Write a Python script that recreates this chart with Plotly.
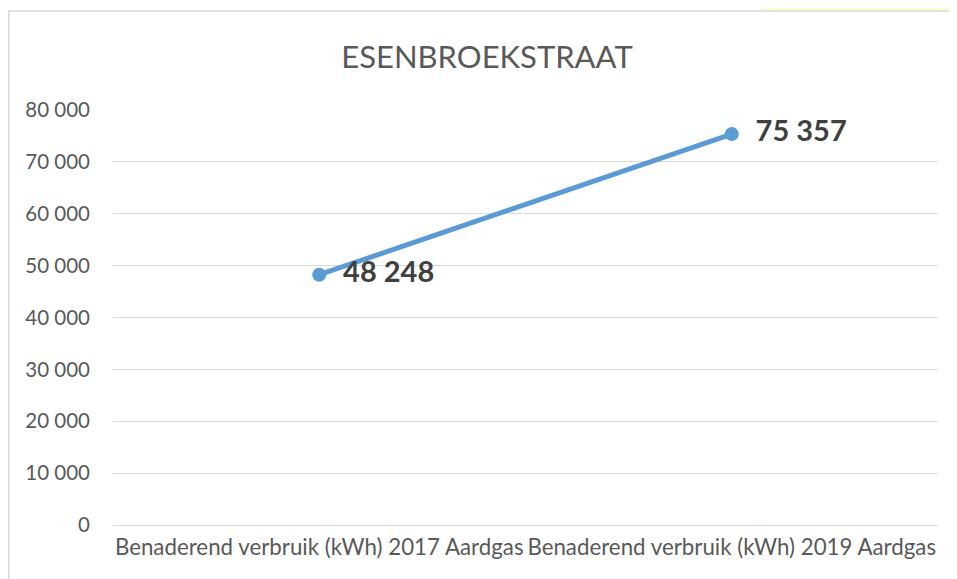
import plotly.graph_objects as go

categories = ["Benaderend verbruik (kWh) 2017 Aardgas", "Benaderend verbruik (kWh) 2019 Aardgas"]
values = [48248, 75357]
value_labels = ["48 248", "75 357"]
tick_vals = [0, 10000, 20000, 30000, 40000, 50000, 60000, 70000, 80000]
tick_text = ["0", "10 000", "20 000", "30 000", "40 000", "50 000", "60 000", "70 000", "80 000"]
title = "ESENBROEKSTRAAT"

OFF = 8  # page body margin
W, H = 957 - OFF, 579 - OFF
L, R, T, B = 113 - OFF, 938 - OFF, 110 - OFF, 525 - OFF

def px(x):
    return (x - OFF - L) / (R - L)

def py(y):
    return (B - (y - OFF)) / (B - T)

FONT = "Lato, Open Sans, sans-serif"

fig = go.Figure()
fig.add_trace(go.Scatter(
    x=categories, y=values, mode="lines+markers+text",
    line=dict(color="#5B9BD5", width=5),
    marker=dict(color="#5B9BD5", size=14),
    text=["  " + t for t in value_labels], textposition="middle right",
    textfont=dict(family=FONT, size=29, color="#404040", weight="bold"),
    cliponaxis=False, showlegend=False,
))

shapes = [
    dict(type="rect", xref="paper", yref="paper", x0=px(760), x1=px(970), y0=py(11), y1=py(-10),
         fillcolor="#FDFBD2", line=dict(width=0), layer="below"),
    dict(type="rect", xref="paper", yref="paper", x0=px(8.8), x1=px(970), y0=py(600), y1=py(11),
         fillcolor="rgba(0,0,0,0)", line=dict(color="#D9D9D9", width=1.5), layer="below"),
]

fig.update_layout(
    width=W, height=H,
    margin=dict(l=L, r=W - R, t=T, b=H - B),
    paper_bgcolor="white", plot_bgcolor="white",
    title=dict(text=title, x=(487 - OFF) / W, xanchor="center", y=1 - (57 - OFF) / H, yanchor="middle",
               font=dict(family=FONT, size=31, color="#595959")),
    font=dict(family=FONT, color="#595959"),
    shapes=shapes,
    xaxis=dict(type="category", range=[-0.5, 1.5], showgrid=False, showline=False, zeroline=False,
               ticks="", tickangle=0, ticklabelstandoff=7, tickfont=dict(size=22.3, color="#595959")),
    yaxis=dict(range=[0, 80000], tickvals=tick_vals, ticktext=tick_text, showgrid=True,
               gridcolor="#D9D9D9", gridwidth=1.2, zeroline=True, zerolinecolor="#D9D9D9",
               zerolinewidth=1.2, showline=False, ticks="",
               ticklabelstandoff=22, tickfont=dict(size=20.5, color="#595959")),
)

fig.write_html("out.html")
